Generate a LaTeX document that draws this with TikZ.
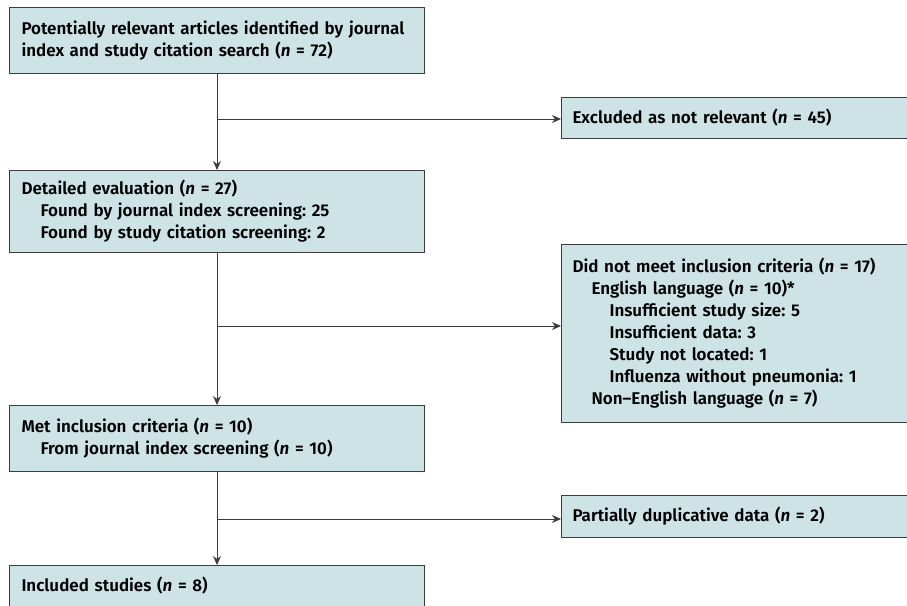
\documentclass[tikz,border=0pt]{standalone}
\usepackage{fontspec}
\setmainfont{Fira Sans}[UprightFont={* SemiBold},ItalicFont={* SemiBold Italic}]
\usetikzlibrary{arrows.meta}
\definecolor{boxfill}{RGB}{205,227,230}
\definecolor{boxline}{RGB}{60,60,60}
\newcommand{\ia}{\hspace*{19pt}}
\newcommand{\ib}{\hspace*{37pt}}
\frenchspacing
\begin{document}
\begin{tikzpicture}[x=1pt,y=-1pt,
  box/.style={draw=boxline, fill=boxfill, line width=1pt, anchor=north west,
    align=left, inner xsep=12pt, inner ysep=0pt,
    font=\fontsize{17}{22}\selectfont\frenchspacing},
  lbox/.style={box, text width=391pt},
  rbox/.style={box, text width=380pt, inner xsep=11pt},
  conn/.style={draw=boxline, line width=1pt},
  arr/.style={conn, -{Stealth[length=9pt,width=8pt]}}]
\useasboundingbox (0,0) rectangle (907,605);
\clip (0,0) rectangle (907,605);
\node[lbox, minimum height=66pt] (b1) at (9,7)
  {Potentially relevant articles identified by journal\\index and study citation search (\textit{n} = 72)};
\node[lbox, minimum height=82pt] (b2) at (9,170)
  {Detailed evaluation (\textit{n} = 27)\\\ia Found by journal index screening: 25\\\ia Found by study citation screening: 2};
\node[lbox, minimum height=66pt] (b3) at (9,405)
  {Met inclusion criteria (\textit{n} = 10)\\\ia From journal index screening (\textit{n} = 10)};
\node[lbox, minimum height=41pt] (b4) at (9,565)
  {Included studies (\textit{n} = 8)};
\node[rbox, minimum height=41pt] (r1) at (561,97)
  {Excluded as not relevant (\textit{n} = 45)};
\node[rbox, minimum height=178pt] (r2) at (561,244)
  {Did not meet inclusion criteria (\textit{n} = 17)\\\ia English language (\textit{n} = 10)*\\\ib Insufficient study size: 5\\\ib Insufficient data: 3\\\ib Study not located: 1\\\ib Influenza without pneumonia: 1\\\ia Non--English language (\textit{n} = 7)};
\node[rbox, minimum height=42pt] (r3) at (561,495)
  {Partially duplicative data (\textit{n} = 2)};
\coordinate (j1) at (216.5,119);
\coordinate (j2) at (216.5,326);
\coordinate (j3) at (216.5,519);
\draw[arr] (b1.south) -- (b2.north);
\draw[arr] (b2.south) -- (b3.north);
\draw[arr] (b3.south) -- (b4.north);
\draw[arr] (j1) -- (j1 -| r1.west);
\draw[arr] (j2) -- (j2 -| r2.west);
\draw[arr] (j3) -- (j3 -| r3.west);
\end{tikzpicture}
\end{document}
